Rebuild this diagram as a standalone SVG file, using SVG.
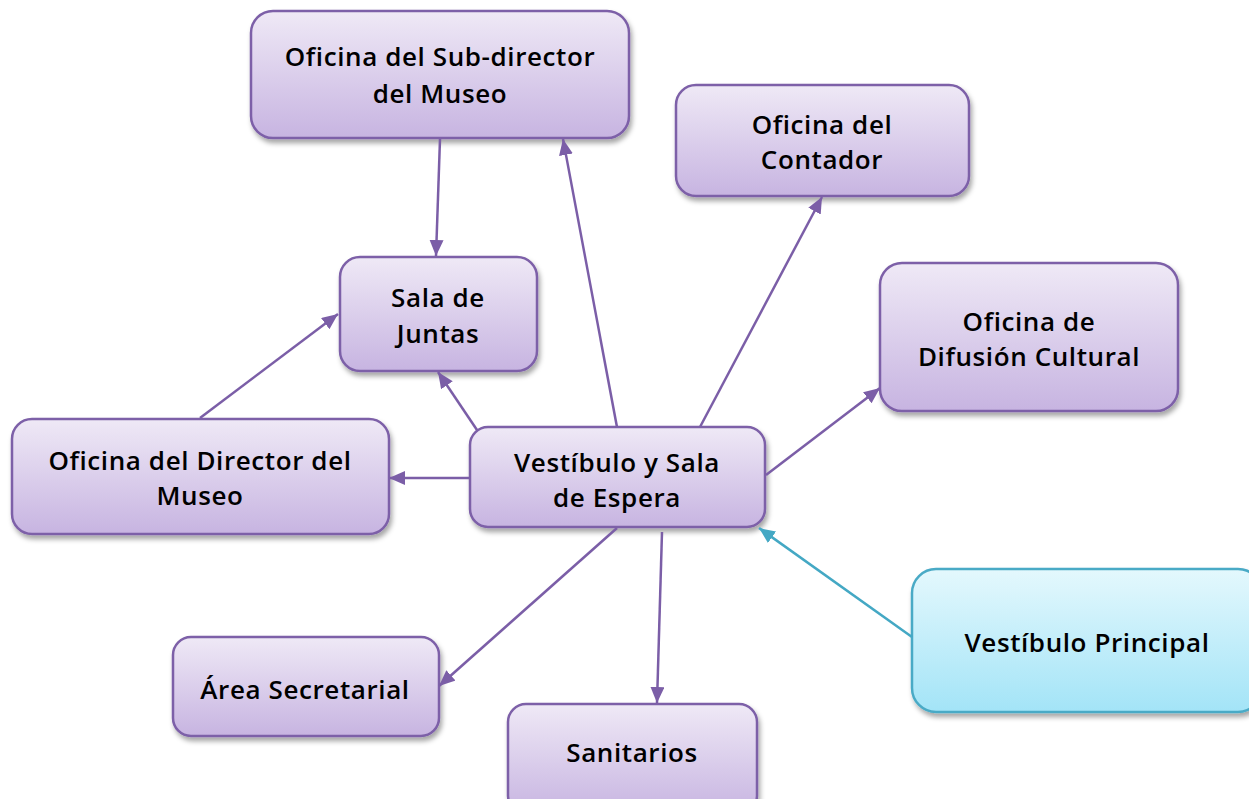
<svg xmlns="http://www.w3.org/2000/svg" width="1249" height="799" viewBox="0 0 1249 799">
<defs>
<linearGradient id="gp" x1="0" y1="0" x2="0" y2="1">
<stop offset="0" stop-color="#efe9f6"/>
<stop offset="1" stop-color="#c7b4e1"/>
</linearGradient>
<linearGradient id="gt" x1="0" y1="0" x2="0" y2="1">
<stop offset="0" stop-color="#e4f8fd"/>
<stop offset="1" stop-color="#a3e4f7"/>
</linearGradient>
<filter id="sh" x="-10%" y="-10%" width="130%" height="140%">
<feDropShadow dx="2" dy="4" stdDeviation="2.5" flood-color="#000" flood-opacity="0.35"/>
</filter>
<marker id="ap" markerUnits="userSpaceOnUse" markerWidth="18" markerHeight="16" refX="16" refY="7" orient="auto">
<path d="M0,0 L16,7 L0,14 z" fill="#7b5ea7"/>
</marker>
<marker id="at" markerUnits="userSpaceOnUse" markerWidth="18" markerHeight="16" refX="16" refY="7" orient="auto">
<path d="M0,0 L16,7 L0,14 z" fill="#44a8c4"/>
</marker>
</defs>
<style>
.n{fill:url(#gp);stroke:#7d60a8;stroke-width:2.5;filter:url(#sh)}
.t{fill:url(#gt);stroke:#4aaac6;stroke-width:2.5;filter:url(#sh)}
text{font-family:"Open Sans",Lato,sans-serif;font-size:26px;font-weight:600;letter-spacing:0.6px;fill:#000;text-anchor:middle}
.c{stroke:#7b5ea7;stroke-width:2.5;fill:none;marker-end:url(#ap)}
.ct{stroke:#44a8c4;stroke-width:2.5;fill:none;marker-end:url(#at)}
</style>
<rect width="1249" height="799" fill="#fff"/>
<g id="n1"><rect class="n" x="251" y="11" width="378" height="127" rx="22"/>
<text x="440" y="66">Oficina del Sub-director</text><text x="440" y="103">del Museo</text></g>
<g id="n2"><rect class="n" x="676" y="85" width="293" height="111" rx="20"/>
<text x="822" y="134">Oficina del</text><text x="822" y="169">Contador</text></g>
<g id="n3"><rect class="n" x="340" y="257" width="197" height="114" rx="20"/>
<text x="438" y="307">Sala de</text><text x="438" y="343">Juntas</text></g>
<g id="n4"><rect class="n" x="880" y="263" width="298" height="148" rx="22"/>
<text x="1029" y="331">Oficina de</text><text x="1029" y="366">Difusión Cultural</text></g>
<g id="n5"><rect class="n" x="12" y="419" width="377" height="115" rx="20"/>
<text x="200" y="470">Oficina del Director del</text><text x="200" y="505">Museo</text></g>
<g id="n6"><rect class="n" x="470" y="427" width="295" height="100" rx="18"/>
<text x="617" y="472">Vestíbulo y Sala</text><text x="617" y="507">de Espera</text></g>
<g id="n7"><rect class="n" x="173" y="637" width="266" height="99" rx="18"/>
<text x="305" y="699">Área Secretarial</text></g>
<g id="n8"><rect class="n" x="508" y="704" width="249" height="110" rx="18"/>
<text x="632" y="762">Sanitarios</text></g>
<g id="n9"><rect class="t" x="912" y="569" width="350" height="143" rx="24"/>
<text x="1087" y="652">Vestíbulo Principal</text></g>
<g id="connectors">
<line class="c" x1="440" y1="139" x2="436" y2="256"/>
<line class="c" x1="617" y1="427" x2="563" y2="139"/>
<line class="c" x1="700" y1="427" x2="822" y2="197"/>
<line class="c" x1="766" y1="475" x2="880" y2="388"/>
<line class="c" x1="470" y1="478" x2="389" y2="478"/>
<line class="c" x1="477" y1="430" x2="438" y2="372"/>
<line class="c" x1="200" y1="418" x2="338" y2="314"/>
<line class="c" x1="617" y1="528" x2="439" y2="686"/>
<line class="c" x1="662" y1="532" x2="657" y2="703"/>
<line class="ct" x1="912" y1="637" x2="759" y2="528"/>
</g>
</svg>
